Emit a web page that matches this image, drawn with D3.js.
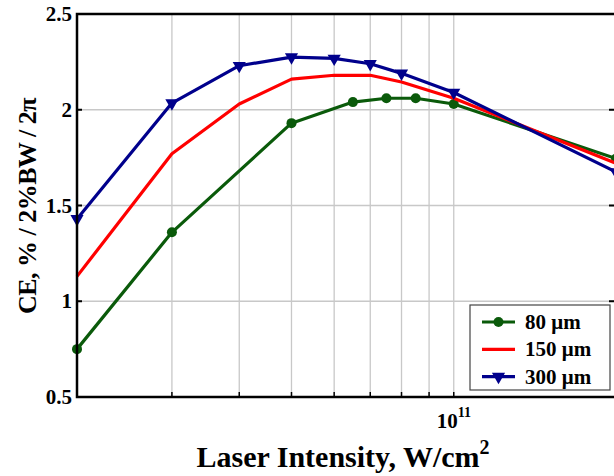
<!DOCTYPE html>
<html>
<head>
<meta charset="utf-8">
<script src="https://d3js.org/d3.v7.min.js"></script>
<style>
  body { margin: 0; background: #fff; }
</style>
</head>
<body>
<div id="chart"></div>
<script>
// data
const x80 = [2e10, 3e10, 5e10, 6.5e10, 7.5e10, 8.5e10, 1e11, 2e11];
const y80 = [0.75, 1.36, 1.93, 2.04, 2.06, 2.06, 2.03, 1.745];
const x150 = [2e10, 3e10, 4e10, 5e10, 6e10, 7e10, 8e10, 1e11, 2e11];
const y150 = [1.13, 1.77, 2.03, 2.16, 2.18, 2.18, 2.145, 2.06, 1.72];
const x300 = [2e10, 3e10, 4e10, 5e10, 6e10, 7e10, 8e10, 1e11, 2e11];
const y300 = [1.43, 2.035, 2.23, 2.275, 2.268, 2.24, 2.19, 2.09, 1.675];
const yTicks = [0.5, 1, 1.5, 2, 2.5];
const xGrid = [2e10, 3e10, 4e10, 5e10, 6e10, 7e10, 8e10, 9e10, 1e11, 2e11];

const series = [
  {name: "80 \u03bcm", xs: x80, ys: y80, color: "#0a5a0a", marker: "circle"},
  {name: "150 \u03bcm", xs: x150, ys: y150, color: "#ff0000", marker: null},
  {name: "300 \u03bcm", xs: x300, ys: y300, color: "#00008c", marker: "tri"}
];

const FONT = "'Liberation Serif', 'Times New Roman', Times, serif";
const W = 614, H = 476;
const m = {left: 77, top: 14, right: 616, bottom: 397};

const svg = d3.select("#chart").append("svg")
  .attr("width", W).attr("height", H)
  .attr("font-family", FONT).attr("font-weight", "bold");

const x = d3.scaleLog().domain([2e10, 2e11]).range([m.left, m.right]);
const y = d3.scaleLinear().domain([0.5, 2.5]).range([m.bottom, m.top]);

// grid
svg.append("g").selectAll("line.gx").data(xGrid).join("line")
  .attr("x1", d => x(d)).attr("x2", d => x(d))
  .attr("y1", m.top).attr("y2", m.bottom)
  .attr("stroke", "#c8c8c8").attr("stroke-width", 1.3);
svg.append("g").selectAll("line.gy").data(yTicks).join("line")
  .attr("x1", m.left).attr("x2", m.right)
  .attr("y1", d => y(d)).attr("y2", d => y(d))
  .attr("stroke", "#c8c8c8").attr("stroke-width", 1.3);

// inward ticks
const tk = 5;
svg.append("g").selectAll("line").data(xGrid).join("line")
  .attr("x1", d => x(d)).attr("x2", d => x(d))
  .attr("y1", m.bottom).attr("y2", m.bottom - tk)
  .attr("stroke", "#000").attr("stroke-width", 1.5);
svg.append("g").selectAll("line").data(yTicks).join("line")
  .attr("x1", m.left).attr("x2", m.left + tk)
  .attr("y1", d => y(d)).attr("y2", d => y(d))
  .attr("stroke", "#000").attr("stroke-width", 2);
svg.append("g").selectAll("line").data(yTicks).join("line")
  .attr("x1", m.right).attr("x2", m.right - tk - 2)
  .attr("y1", d => y(d)).attr("y2", d => y(d))
  .attr("stroke", "#000").attr("stroke-width", 2);

// lines
const line = d3.line().x(d => x(d[0])).y(d => y(d[1]));
series.forEach(s => {
  const pts = s.xs.map((v, i) => [v, s.ys[i]]);
  svg.append("path").datum(pts)
    .attr("d", line)
    .attr("fill", "none")
    .attr("stroke", s.color)
    .attr("stroke-width", 3.2)
    .attr("stroke-linejoin", "round");
  if (s.marker === "circle") {
    svg.append("g").selectAll("circle").data(pts).join("circle")
      .attr("cx", d => x(d[0])).attr("cy", d => y(d[1]))
      .attr("r", 5).attr("fill", s.color);
  } else if (s.marker === "tri") {
    svg.append("g").selectAll("path").data(pts).join("path")
      .attr("transform", d => `translate(${x(d[0])},${y(d[1])}) rotate(180)`)
      .attr("d", d3.symbol(d3.symbolTriangle, 75))
      .attr("fill", s.color);
  }
});

// frame
svg.append("rect")
  .attr("x", m.left).attr("y", m.top)
  .attr("width", m.right - m.left).attr("height", m.bottom - m.top)
  .attr("fill", "none").attr("stroke", "#000").attr("stroke-width", 2.5);

// y tick labels
svg.append("g").selectAll("text").data(yTicks).join("text")
  .attr("x", m.left - 5).attr("y", d => y(d) + 7)
  .attr("text-anchor", "end")
  .attr("font-size", 21)
  .text(d => d3.format("")(d));

// x tick label 10^11
const xl = svg.append("text")
  .attr("x", x(1e11) - 17).attr("y", 428)
  .attr("font-size", 21);
xl.append("tspan").text("10");
xl.append("tspan").attr("dy", -11).attr("font-size", 14).text("11");

// axis titles
const xt = svg.append("text")
  .attr("x", 343).attr("y", 467)
  .attr("text-anchor", "middle")
  .attr("font-size", 30);
xt.append("tspan").text("Laser Intensity, W/cm");
xt.append("tspan").attr("dy", -13).attr("font-size", 20).text("2");

svg.append("text")
  .attr("transform", "translate(36,206) rotate(-90)")
  .attr("text-anchor", "middle")
  .attr("font-size", 26)
  .attr("letter-spacing", -0.5)
  .text("CE, % / 2%BW / 2\u03c0");

// legend
const lg = svg.append("g");
lg.append("rect")
  .attr("x", 470).attr("y", 305).attr("width", 140).attr("height", 85)
  .attr("fill", "#fff").attr("stroke", "#444").attr("stroke-width", 1.2);
series.forEach((s, i) => {
  const cy = 322 + i * 27.3;
  lg.append("line")
    .attr("x1", 482).attr("x2", 515).attr("y1", cy).attr("y2", cy)
    .attr("stroke", s.color).attr("stroke-width", 3.2);
  if (s.marker === "circle") {
    lg.append("circle").attr("cx", 498.5).attr("cy", cy).attr("r", 5).attr("fill", s.color);
  } else if (s.marker === "tri") {
    lg.append("path")
      .attr("transform", `translate(498.5,${cy}) rotate(180)`)
      .attr("d", d3.symbol(d3.symbolTriangle, 75))
      .attr("fill", s.color);
  }
  lg.append("text")
    .attr("x", 525).attr("y", cy + 7)
    .attr("font-size", 21)
    .text(s.name);
});
</script>
</body>
</html>
